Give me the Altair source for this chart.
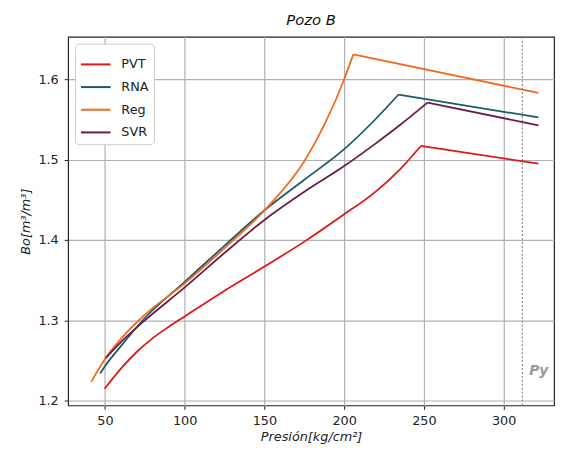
import altair as alt
import pandas as pd

# Data
pvt_x = [49.8, 60, 70, 80, 90, 100, 125, 150, 175, 200, 219, 235, 248.1]
pvt_y = [1.215, 1.240, 1.261, 1.278, 1.292, 1.305, 1.337, 1.367, 1.398, 1.432, 1.459, 1.488, 1.517]
pvt_end = (321.8, 1.495)

rna_x = [47.0, 50, 60, 75, 100, 125, 150, 175, 200, 219, 234.1]
rna_y = [1.234, 1.243, 1.268, 1.303, 1.348, 1.393, 1.437, 1.475, 1.513, 1.549, 1.581]
rna_end = (321.8, 1.5525)

reg_x = [41.4, 50, 60, 75, 100, 125, 150, 175, 188, 200, 205.7]
reg_y = [1.2235, 1.252, 1.277, 1.307, 1.346, 1.390, 1.437, 1.498, 1.545, 1.600, 1.631]
reg_end = (321.8, 1.583)

svr_x = [50.4, 60, 75, 100, 125, 150, 175, 200, 219, 235, 252.3]
svr_y = [1.253, 1.273, 1.300, 1.341, 1.384, 1.425, 1.460, 1.492, 1.519, 1.543, 1.571]
svr_end = (321.8, 1.5427)

series_names = ["PVT", "RNA", "Reg", "SVR"]
series_colors = ["#e0161b", "#1b5a66", "#f26b1d", "#6b1a4c"]
py_x = 311.7

rows = []
for name, xs, ys, end in [("PVT", pvt_x, pvt_y, pvt_end), ("RNA", rna_x, rna_y, rna_end),
                          ("Reg", reg_x, reg_y, reg_end), ("SVR", svr_x, svr_y, svr_end)]:
    for x, y in zip(xs, ys):
        rows.append({"serie": name, "seg": name + "a", "p": x, "bo": y})
    rows.append({"serie": name, "seg": name + "b", "p": xs[-1], "bo": ys[-1]})
    rows.append({"serie": name, "seg": name + "b", "p": end[0], "bo": end[1]})
df = pd.DataFrame(rows)

FONT = "DejaVu Sans"
xscale = alt.Scale(domain=[26.9, 331.6], nice=False, zero=False)
yscale = alt.Scale(domain=[1.1942, 1.6528], nice=False, zero=False)

lines = alt.Chart(df).mark_line(strokeWidth=1.8, interpolate="monotone").encode(
    x=alt.X("p:Q", scale=xscale,
            axis=alt.Axis(values=[50, 100, 150, 200, 250, 300], title="Presión[kg/cm²]",
                          titleFontStyle="italic", titleFontWeight="normal", titleFontSize=13,
                          titleColor="#222", titlePadding=4, labelPadding=5)),
    y=alt.Y("bo:Q", scale=yscale,
            axis=alt.Axis(values=[1.2, 1.3, 1.4, 1.5, 1.6], format=".1f", title="Bo[m³/m³]",
                          titleFontStyle="italic", titleFontWeight="normal", titleFontSize=13,
                          titleColor="#222", titlePadding=5, labelPadding=6)),
    color=alt.Color("serie:N", scale=alt.Scale(domain=series_names, range=series_colors),
                    legend=alt.Legend(title=None, orient="none", legendX=7, legendY=7,
                                      symbolType="stroke", symbolSize=900, symbolStrokeWidth=2,
                                      labelFontSize=13, labelFont=FONT, labelColor="#222",
                                      rowPadding=-1, padding=5, strokeColor="#cccccc",
                                      cornerRadius=4, fillColor="white", labelOffset=10)),
    detail="seg:N",
)

py_df = pd.DataFrame({"p": [py_x]})
py_rule = alt.Chart(py_df).mark_rule(color="#888888", strokeWidth=1.2, strokeDash=[2, 2]).encode(
    x=alt.X("p:Q", scale=xscale)
)

py_text_df = pd.DataFrame({"p": [322.0], "bo": [1.237], "t": ["Py"]})
py_text = alt.Chart(py_text_df).mark_text(fontSize=14, fontStyle="italic", fontWeight="bold",
                                          color="#999999", font=FONT).encode(
    x=alt.X("p:Q", scale=xscale), y=alt.Y("bo:Q", scale=yscale), text="t:N"
)

chart = alt.layer(py_rule, lines, py_text).properties(
    width=493, height=374,
    title=alt.TitleParams("Pozo B", fontStyle="italic", fontWeight="normal", fontSize=15,
                          font=FONT, color="#111", offset=8),
    autosize=alt.AutoSizeParams(type="none"),
    padding={"left": 61, "top": 26, "right": 4, "bottom": 44},
).configure_axis(
    grid=True, gridColor="#b0b0b0", gridWidth=1.2, domain=False,
    tickColor="#222", tickSize=4, labelFont=FONT, labelFontSize=13, labelColor="#222",
    titleFont=FONT,
).configure_view(stroke="#222", strokeWidth=1.2)

chart.save("out.html", embed_options={"renderer": "svg", "actions": False})
